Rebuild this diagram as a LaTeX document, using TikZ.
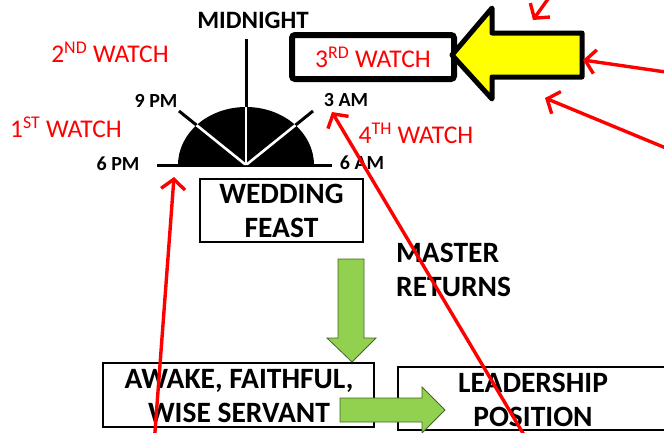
\documentclass[tikz,border=0pt]{standalone}
\usepackage{fontspec}
\setmainfont{Carlito}
\usetikzlibrary{arrows.meta}
\definecolor{grn}{RGB}{146,208,80}
\definecolor{grnline}{RGB}{70,100,40}
\definecolor{yel}{RGB}{255,255,0}
\begin{document}
\begin{tikzpicture}[x=1pt,y=-1pt,
  lbl/.style={font=\bfseries\fontsize{20}{20}\selectfont, inner sep=0pt},
  watch/.style={text=red, font=\fontsize{25.5}{25.5}\selectfont, inner sep=0pt},
  boxed/.style={draw=black, line width=1.8pt, fill=white, inner sep=0pt},
  boxtxt/.style={font=\bfseries\fontsize{29.5}{34.5}\selectfont, align=center, inner sep=0pt},
  redarr/.style={draw=red, line width=3.4pt, -{Straight Barb[length=10pt,width=24pt,line width=3.4pt]}},
  grarrow/.style={fill=grn, draw=grnline, line width=0.8pt}
]
\useasboundingbox (0,0) rectangle (664,432);
\clip (0,0) rectangle (664,432);

% clock
\coordinate (c) at (246,165);
\coordinate (mid) at (246,39);
\coordinate (nine) at (179,111);
\coordinate (three) at (313,111);
\coordinate (sixpm) at (157,165);
\coordinate (sixam) at (332,165);
\draw[line width=3pt] (sixpm) -- (sixam);
\fill (178,165) arc[start angle=180,end angle=360,x radius=68,y radius=58] -- cycle;
\draw[line width=3pt] (c) -- (mid);
\draw[line width=3pt] (c) -- (nine);
\draw[line width=3pt] (c) -- (three);
\begin{scope}
  \clip (178,165) arc[start angle=180,end angle=360,x radius=68,y radius=58] -- cycle;
  \draw[white, line width=2.6pt] (c) -- (mid);
  \draw[white, line width=2.6pt] (c) -- (nine);
  \draw[white, line width=2.6pt] (c) -- (three);
\end{scope}

\node[font=\bfseries\fontsize{25}{25}\selectfont, inner sep=0pt] (midnight) at (253,20) {MIDNIGHT};
\node[lbl] (l9) at (156,101) {9 PM};
\node[lbl] (l3) at (346,100) {3 AM};
\node[lbl] (l6p) at (118,164) {6 PM};
\node[lbl] (l6a) at (362,163) {6 AM};

\node[watch] (w2) at (110,52) {2\textsuperscript{ND} WATCH};
\node[watch] (w1) at (66,127) {1\textsuperscript{ST} WATCH};
\node[watch] (w4) at (416,133) {4\textsuperscript{TH} WATCH};

% 3rd watch box
\draw[line width=6pt, rounded corners=3pt, fill=white] (292,35) rectangle (454,79);
\node[watch] (w3) at (373,57) {3\textsuperscript{RD} WATCH};

% yellow arrow
\draw[fill=yel, line width=5pt, line join=round]
  (452,55) -- (492,8) -- (492,33) -- (582,33) -- (582,77) -- (492,77) -- (492,99) -- cycle;

% boxes
\draw[boxed] (200,179) rectangle (363,242);
\node[boxtxt] (wed) at (281.5,211) {WEDDING\\FEAST};
\draw[boxed] (103,363) rectangle (374,427);
\node[boxtxt] (awake) at (239,396) {AWAKE, FAITHFUL,\\WISE SERVANT};
\draw[boxed] (398,367) rectangle (670,430);
\node[boxtxt] (lead) at (533,400) {LEADERSHIP\\POSITION};

\node[boxtxt, align=left, anchor=west] (master) at (396,270) {MASTER\\RETURNS};

% green arrows
\draw[grarrow] (338,259) -- (364,259) -- (364,338) -- (376,338) -- (352,362) -- (327,338) -- (338,338) -- cycle;
\draw[grarrow] (340,398) -- (422,398) -- (422,387) -- (445,410) -- (422,433) -- (422,422) -- (340,422) -- cycle;

% red arrows
\coordinate (r1s) at (154,445);
\coordinate (r1e) at (174,177);
\coordinate (r2s) at (530,445);
\coordinate (r2e) at (332,112);
\coordinate (r3s) at (690,158);
\coordinate (r3e) at (545,98);
\coordinate (r4s) at (700,77);
\coordinate (r4e) at (583,60);
\coordinate (r5s) at (553,-8);
\coordinate (r5e) at (533,20);
\draw[redarr] (r1s) -- (r1e);
\draw[redarr] (r2s) -- (r2e);
\draw[redarr] (r3s) -- (r3e);
\draw[redarr] (r4s) -- (r4e);
\draw[redarr] (r5s) -- (r5e);
\end{tikzpicture}
\end{document}
